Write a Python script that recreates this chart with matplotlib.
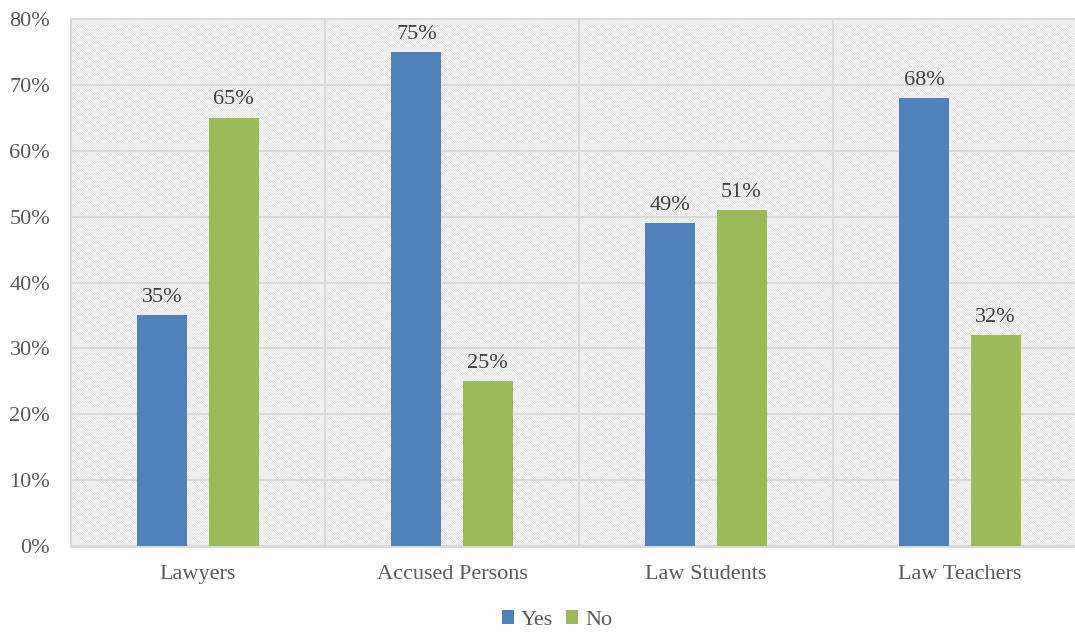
import matplotlib
matplotlib.use("Agg")
import matplotlib.pyplot as plt
from matplotlib.patches import Rectangle
import numpy as np

categories = ["Lawyers", "Accused Persons", "Law Students", "Law Teachers"]
yes_values = [35, 75, 49, 68]
no_values = [65, 25, 51, 32]
series_names = ["Yes", "No"]
y_ticks = [0, 10, 20, 30, 40, 50, 60, 70, 80]

BLUE = "#4f81bd"
GREEN = "#9bbb59"
GRID = "#d9d9d9"
TEXT = "#595959"
FS = 16

plt.rcParams["font.family"] = ["Liberation Serif", "DejaVu Serif"]
plt.rcParams["hatch.linewidth"] = 0.6
plt.rcParams["hatch.color"] = "#dedede"

fig = plt.figure(figsize=(10.75, 6.33), dpi=100)
W, H = 1075, 633
left, right, top, bottom = 71, 1087, 19, 546
ax = fig.add_axes([left / W, 1 - bottom / H, (right - left) / W, (bottom - top) / H])

# patterned plot-area background
ax.patch.set_facecolor("white")
bg = Rectangle((0, 0), 1, 1, transform=ax.transAxes, facecolor="white",
               edgecolor="#dedede", hatch="\\" * 14, linewidth=0, zorder=0)
ax.add_patch(bg)

x = np.arange(len(categories))
offset = 0.14
width = 0.197
bars_yes = ax.bar(x - offset, yes_values, width, color=BLUE, zorder=3, label=series_names[0])
bars_no = ax.bar(x + offset, no_values, width, color=GREEN, zorder=3, label=series_names[1])

for bars, vals in ((bars_yes, yes_values), (bars_no, no_values)):
    for b, v in zip(bars, vals):
        ax.annotate(f"{v}%", (b.get_x() + b.get_width() / 2, v),
                    xytext=(0, 6), textcoords="offset points",
                    ha="center", va="bottom", fontsize=FS, color="#404040", zorder=4)

ax.set_xlim(-0.5, len(categories) - 0.5)
ax.set_ylim(0, 80)
ax.set_yticks(y_ticks)
ax.set_yticklabels([f"{t}%" for t in y_ticks])
ax.set_xticks(x)
ax.set_xticklabels(categories)
ax.tick_params(axis="y", length=0, pad=15, labelsize=FS, labelcolor=TEXT)
ax.tick_params(axis="x", length=0, pad=14, labelsize=FS, labelcolor=TEXT)

ax.yaxis.grid(True, color=GRID, linewidth=1.5, zorder=1)
ax.set_axisbelow(True)
for xv in np.arange(0.5, len(categories) - 0.5, 1.0):
    ax.axvline(xv, color=GRID, linewidth=1.5, zorder=1)

for side in ("top", "left", "right"):
    ax.spines[side].set_color(GRID)
    ax.spines[side].set_linewidth(1.5)
ax.spines["bottom"].set_color(GRID)
ax.spines["bottom"].set_linewidth(2)

fig.legend(handles=[bars_yes, bars_no], labels=series_names, loc="center",
           bbox_to_anchor=(557 / W, 1 - 620 / H), ncol=2, frameon=False,
           fontsize=FS, handlelength=0.55, handleheight=0.55,
           handletextpad=0.3, columnspacing=0.6, labelcolor=TEXT)

fig.savefig("out.png", dpi=100)
